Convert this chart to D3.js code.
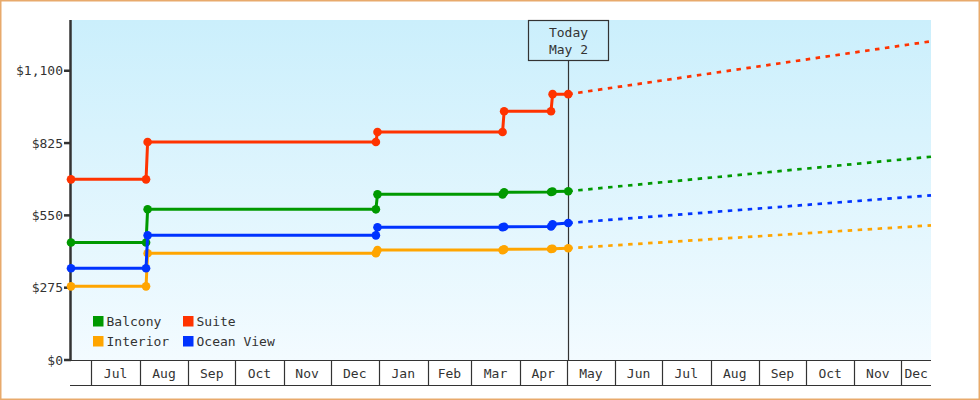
<!DOCTYPE html>
<html>
<head>
<meta charset="utf-8">
<script src="https://cdn.jsdelivr.net/npm/d3@7"></script>
<style>
  html, body { margin: 0; padding: 0; background: #fff; }
  svg { display: block; }
  text { font-family: "DejaVu Sans Mono", "Liberation Mono", monospace; fill: #333; }
</style>
</head>
<body>
<svg id="chart" width="980" height="400"></svg>
<script>
// ---- Data ----
const seriesNames = ["Balcony", "Suite", "Interior", "Ocean View"];
const seriesColors = ["#009900", "#ff3300", "#ffa500", "#0033ff"];
const priceDates = ["2022-06-18", "2022-08-05", "2022-08-06", "2022-12-30", "2022-12-31",
                    "2023-03-21", "2023-03-22", "2023-04-21", "2023-04-22", "2023-05-02"];
const balconyPrices  = [447, 447, 573, 573, 630, 630, 638, 639, 641, 642];
const suitePrices    = [687, 687, 829, 829, 867, 867, 946, 946, 1011, 1011];
const interiorPrices = [280, 280, 406, 406, 418, 418, 421, 422, 423, 425];
const oceanPrices    = [349, 349, 474, 474, 505, 505, 507, 508, 516, 521];
const projectionDates = ["2023-05-02", "2023-12-20"];
const balconyProjection  = [642, 773];
const suiteProjection    = [1011, 1212];
const interiorProjection = [425, 512];
const oceanProjection    = [521, 626];
const yTicks = [0, 275, 550, 825, 1100];
const monthTicks = ["2022-07-01", "2022-08-01", "2022-09-01", "2022-10-01", "2022-11-01", "2022-12-01",
                    "2023-01-01", "2023-02-01", "2023-03-01", "2023-04-01", "2023-05-01", "2023-06-01",
                    "2023-07-01", "2023-08-01", "2023-09-01", "2023-10-01", "2023-11-01", "2023-12-01"];
const todayDate = "2023-05-02";
const todayLabel = ["Today", "May 2"];
const domainDates = ["2022-06-18", "2023-12-20"];
const yMax = 1293;

const parse = d3.utcParse("%Y-%m-%d");
const priceSeries = [balconyPrices, suitePrices, interiorPrices, oceanPrices];
const projSeries = [balconyProjection, suiteProjection, interiorProjection, oceanProjection];

// ---- Layout ----
const pLeft = 71, pRight = 931, pTop = 20, pBottom = 360, axisBottom = 385;
const svg = d3.select("#chart");

const x = d3.scaleUtc().domain(domainDates.map(parse)).range([pLeft, pRight]);
const y = d3.scaleLinear().domain([0, yMax]).range([pBottom, pTop]);

// background gradient
const defs = svg.append("defs");
const grad = defs.append("linearGradient").attr("id", "bg").attr("x1", 0).attr("y1", 0).attr("x2", 0).attr("y2", 1);
grad.append("stop").attr("offset", "0%").attr("stop-color", "#cbeffc");
grad.append("stop").attr("offset", "100%").attr("stop-color", "#f3fbff");

svg.append("rect").attr("x", pLeft).attr("y", pTop).attr("width", pRight - pLeft).attr("height", pBottom - pTop)
  .attr("fill", "url(#bg)");

// outer border
svg.append("rect").attr("x", 0.75).attr("y", 0.75).attr("width", 978.5).attr("height", 398.5)
  .attr("fill", "none").attr("stroke", "#e8aa6c").attr("stroke-width", 1.5);

// ---- X axis (month cells) ----
const xg = svg.append("g");
xg.append("line").attr("x1", pLeft - 1).attr("x2", pRight).attr("y1", pBottom + 0.5).attr("y2", pBottom + 0.5)
  .attr("stroke", "#333").attr("stroke-width", 1.2);
xg.append("line").attr("x1", pLeft - 1).attr("x2", pRight).attr("y1", axisBottom + 0.5).attr("y2", axisBottom + 0.5)
  .attr("stroke", "#333").attr("stroke-width", 1.2);
const months = monthTicks.map(parse);
const fmtMonth = d3.utcFormat("%b");
months.forEach((m, i) => {
  const x0 = x(m);
  const next = i < months.length - 1 ? x(months[i + 1]) : pRight;
  xg.append("line").attr("x1", Math.round(x0) + 0.5).attr("x2", Math.round(x0) + 0.5)
    .attr("y1", pBottom).attr("y2", axisBottom).attr("stroke", "#333").attr("stroke-width", 1.2);
  xg.append("text").attr("x", (x0 + Math.min(next, pRight)) / 2).attr("y", 373)
    .attr("text-anchor", "middle").attr("dominant-baseline", "central")
    .attr("font-size", 13).text(fmtMonth(m));
});

// ---- Y axis ----
const yg = svg.append("g");
yg.append("line").attr("x1", pLeft - 0.5).attr("x2", pLeft - 0.5).attr("y1", pTop).attr("y2", pBottom + 1)
  .attr("stroke", "#333").attr("stroke-width", 2.5);
const fmtY = d3.format("$,");
yTicks.forEach(v => {
  yg.append("line").attr("x1", 64).attr("x2", pLeft).attr("y1", y(v)).attr("y2", y(v))
    .attr("stroke", "#333").attr("stroke-width", 2.5);
  yg.append("text").attr("x", 63).attr("y", y(v)).attr("text-anchor", "end")
    .attr("dominant-baseline", "central").attr("font-size", 13).text(fmtY(v));
});

// ---- Today marker ----
const tx = Math.round(x(parse(todayDate))) + 0.5;
svg.append("line").attr("x1", tx).attr("x2", tx).attr("y1", 60).attr("y2", pBottom)
  .attr("stroke", "#333").attr("stroke-width", 1.2);
svg.append("rect").attr("x", tx - 40).attr("y", pTop + 0.5).attr("width", 80).attr("height", 40)
  .attr("fill", "none").attr("stroke", "#333").attr("stroke-width", 1.2);
todayLabel.forEach((t, i) => {
  svg.append("text").attr("x", tx).attr("y", 32.5 + i * 17).attr("text-anchor", "middle")
    .attr("dominant-baseline", "central").attr("font-size", 13).text(t);
});

// ---- Series ----
const line = d3.line().x(d => x(d.date)).y(d => y(d.value));
const drawOrder = [2, 0, 3, 1];
drawOrder.forEach(si => {
  const color = seriesColors[si];
  const pts = priceDates.map((d, i) => ({ date: parse(d), value: priceSeries[si][i] }));
  const proj = projectionDates.map((d, i) => ({ date: parse(d), value: projSeries[si][i] }));
  svg.append("path").datum(proj).attr("d", line).attr("fill", "none")
    .attr("stroke", color).attr("stroke-width", 2.7).attr("stroke-dasharray", "4.5,5.5");
  svg.append("path").datum(pts).attr("d", line).attr("fill", "none")
    .attr("stroke", color).attr("stroke-width", 3).attr("stroke-linejoin", "round");
  svg.append("g").selectAll("circle").data(pts).join("circle")
    .attr("cx", d => x(d.date)).attr("cy", d => y(d.value)).attr("r", 4.3)
    .attr("fill", color);
});

// ---- Legend ----
const legendPos = [[93, 316], [183, 316], [93, 336], [183, 336]];
seriesNames.forEach((name, i) => {
  const [lx, ly] = legendPos[i];
  svg.append("rect").attr("x", lx).attr("y", ly).attr("width", 10.5).attr("height", 10.5)
    .attr("fill", seriesColors[i]);
  svg.append("text").attr("x", lx + 13.5).attr("y", ly + 5).attr("dominant-baseline", "central")
    .attr("font-size", 13).text(name);
});
</script>
</body>
</html>
